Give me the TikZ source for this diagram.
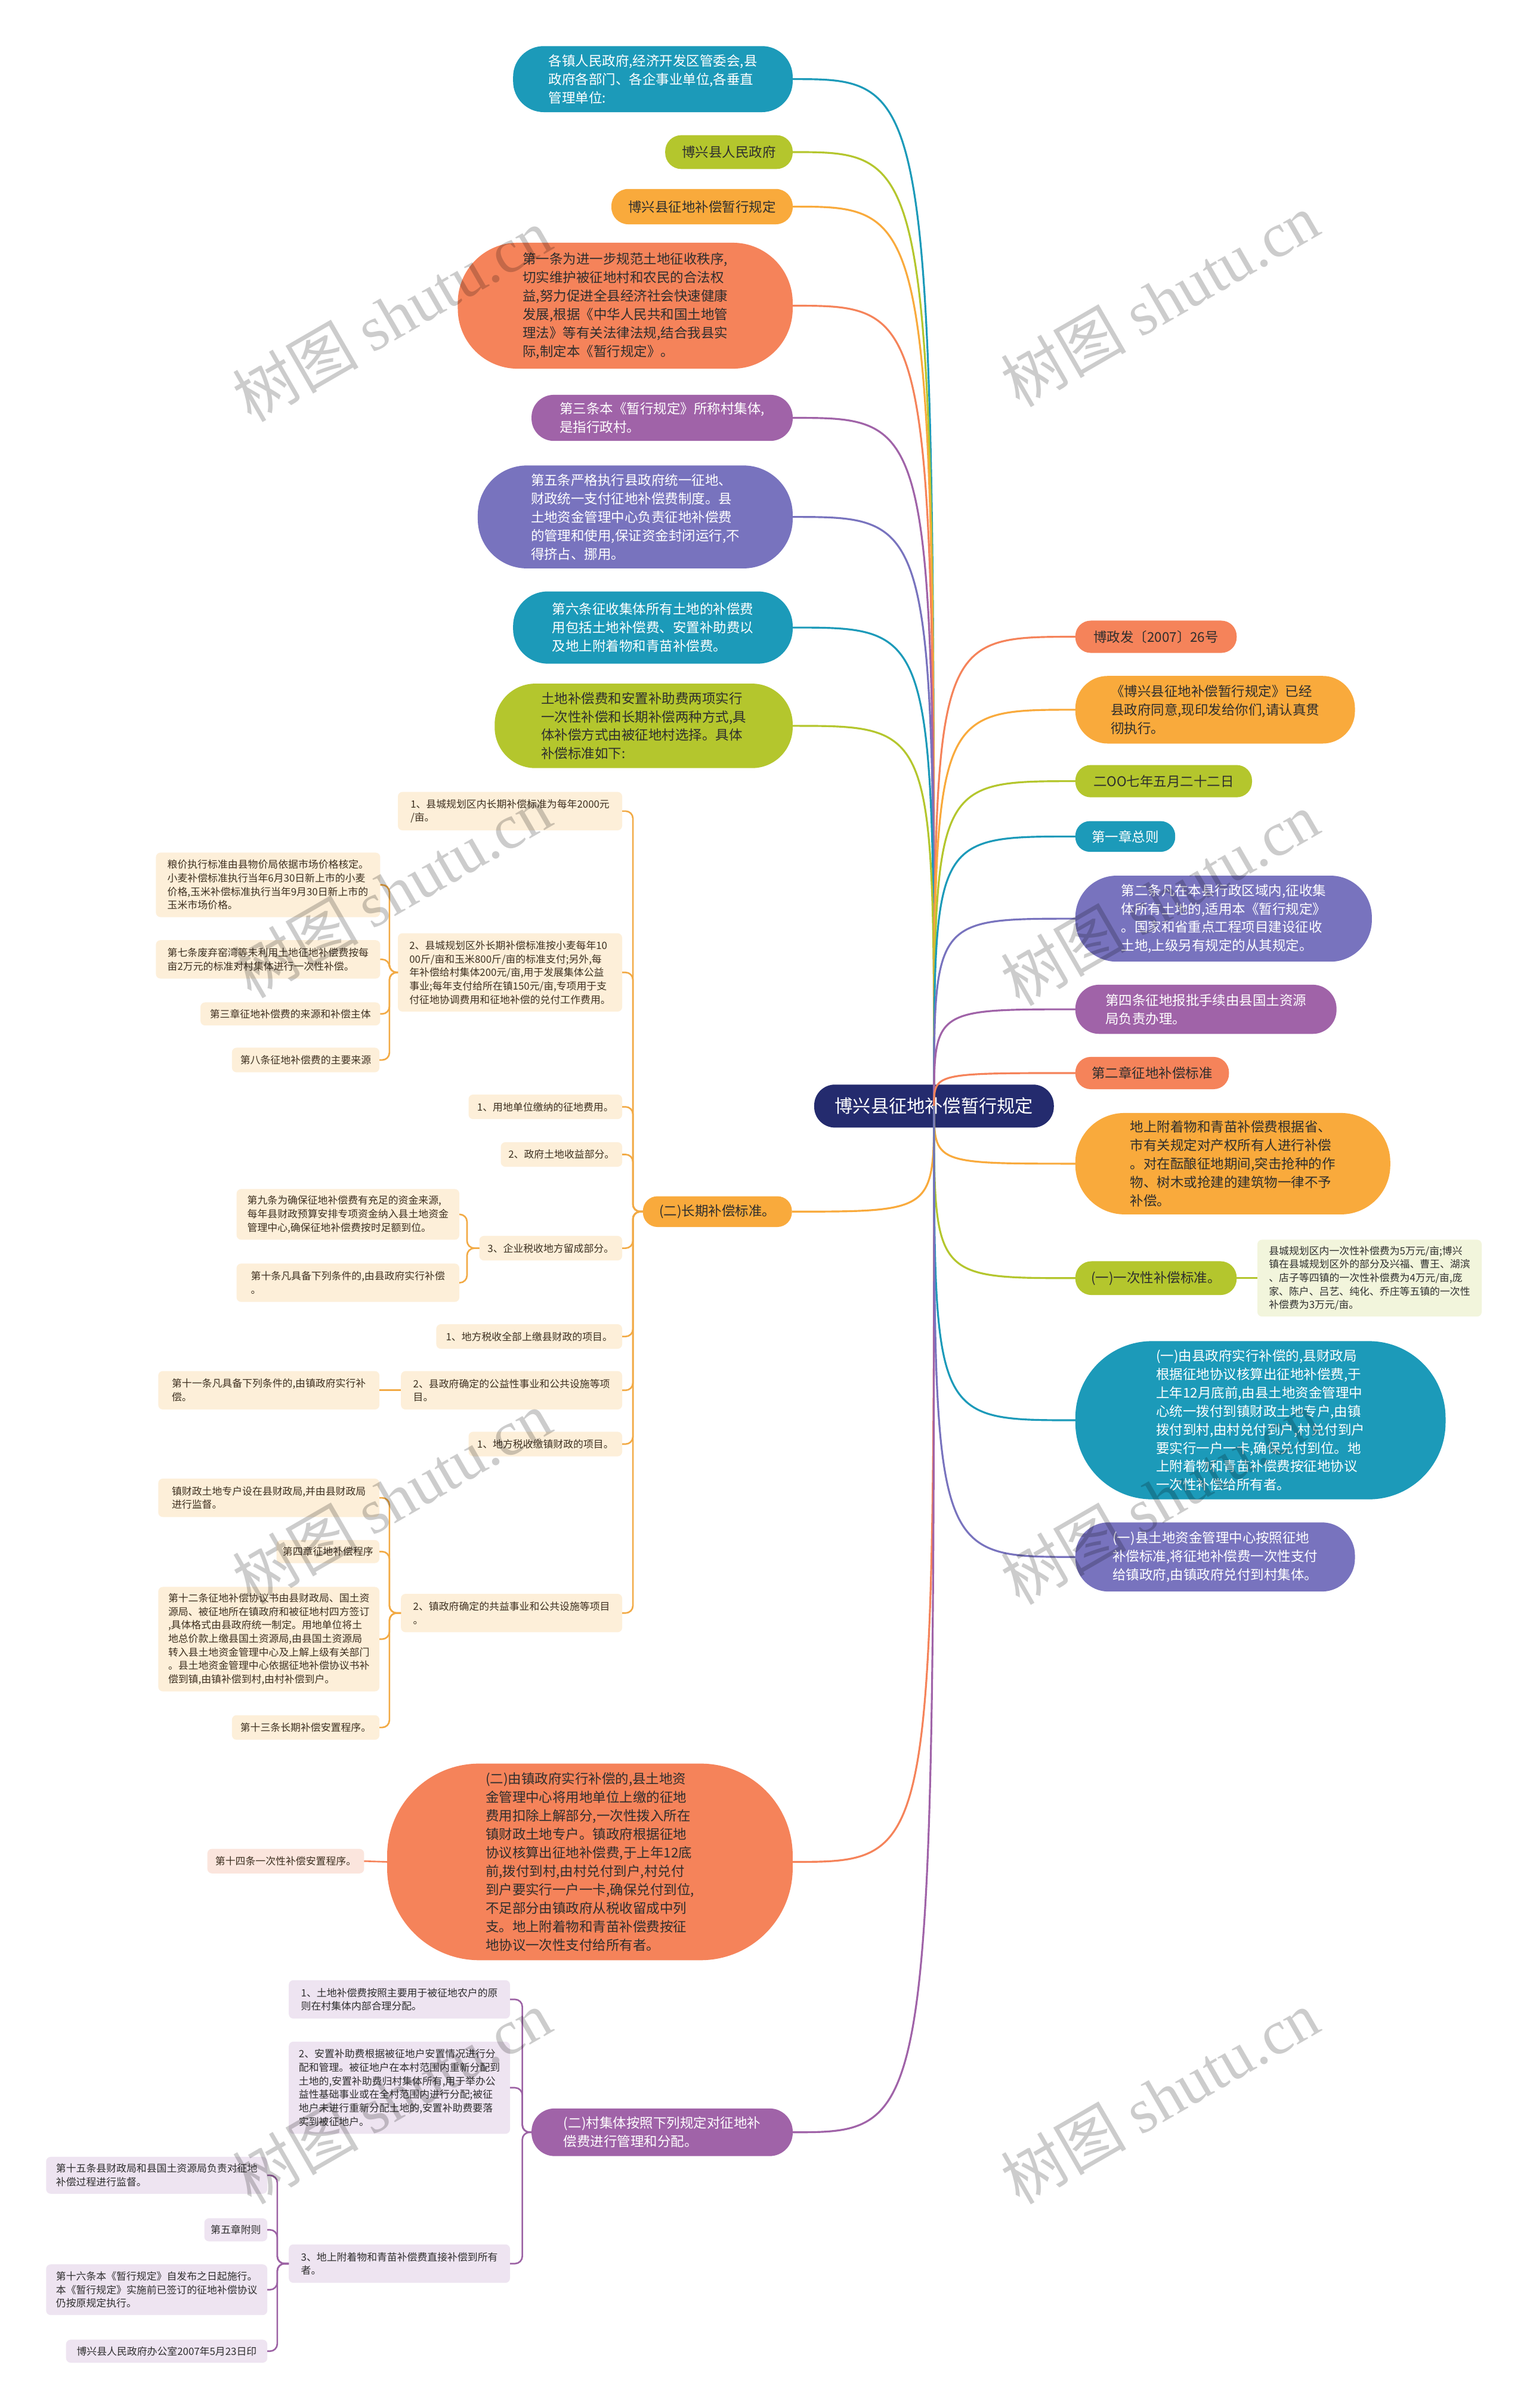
\documentclass[tikz,border=0pt]{standalone}
\usepackage{fontspec}
\setmainfont{Noto Sans CJK SC}
\newfontfamily\wmlatin{Liberation Serif}
\newdimen\uu
\uu=0.25755mm
\definecolor{cTeal}{HTML}{1C9AB9}
\definecolor{cYG}{HTML}{B4C62D}
\definecolor{cOrange}{HTML}{F9AA3C}
\definecolor{cSalmon}{HTML}{F5835A}
\definecolor{cPurple}{HTML}{A063A8}
\definecolor{cBP}{HTML}{7873BE}
\definecolor{cNavy}{HTML}{242B6E}
\definecolor{cDark}{HTML}{2E2E2E}
\definecolor{cBrown}{HTML}{3D3020}
\definecolor{fPeach}{HTML}{FDEFD9}
\definecolor{fLav}{HTML}{EEE4F1}
\definecolor{fGreen}{HTML}{F2F5DC}
\definecolor{fPink}{HTML}{FBE5DD}
\definecolor{lOrange}{HTML}{F2AA45}
\definecolor{lPurple}{HTML}{9C62A4}
\tikzset{
 nbase/.style={inner sep=0pt, outer sep=0pt, align=left},
 bw/.style={minimum width=#1*\uu},
 bh/.style={minimum height=#1*\uu},
 br/.style={rounded corners=#1*\uu},
 mb/.style={nbase, fill=#1, text=white, font=\fontsize{6.4pt}{8.8pt}\selectfont},
 dk/.style={text=cDark},
 sb/.style={nbase, fill=#1, text=cBrown, rounded corners=2.2pt, font=\fontsize{4.8pt}{6.45pt}\selectfont},
 conn/.style={line width=0.9pt},
 sconn/.style={line width=0.75pt, rounded corners=3.5pt},
 wm/.style={text=black, opacity=0.2, rotate=30, font=\fontsize{30pt}{30pt}\selectfont, inner sep=0pt},
}
\begin{document}
\begin{tikzpicture}[x=0.25755mm, y=-0.25755mm]
\fill[white] (0,0) rectangle (994,1567.5);
\useasboundingbox (0,0) rectangle (994,1567.5);

% centre
\node[mb=cNavy, bw=156, bh=28, br=13.5, font=\fontsize{8.6pt}{10pt}\selectfont] (ctrnode) at (608,720) {博兴县征地补偿暂行规定};
\coordinate (ctr) at (608,720);

% left upper branches
\node[mb=cTeal, bw=182, bh=43, br=20] (a1) at (425,51.5) {各镇人民政府,经济开发区管委会,县\\政府各部门、各企事业单位,各垂直\\管理单位:};
\node[mb=cYG, dk, bw=83, bh=22, br=10.5] (a2) at (474.5,99) {博兴县人民政府};
\node[mb=cOrange, dk, bw=118, bh=23, br=11] (a3) at (457,134.5) {博兴县征地补偿暂行规定};
\node[mb=cSalmon, dk, bw=218, bh=82, br=39] (a4) at (407,199) {第一条为进一步规范土地征收秩序,\\切实维护被征地村和农民的合法权\\益,努力促进全县经济社会快速健康\\发展,根据《中华人民共和国土地管\\理法》等有关法律法规,结合我县实\\际,制定本《暂行规定》。};
\node[mb=cPurple, bw=170, bh=30, br=14.5] (a5) at (431,272) {第三条本《暂行规定》所称村集体,\\是指行政村。};
\node[mb=cBP, bw=205, bh=67, br=32] (a6) at (413.5,336.5) {第五条严格执行县政府统一征地、\\财政统一支付征地补偿费制度。县\\土地资金管理中心负责征地补偿费\\的管理和使用,保证资金封闭运行,不\\得挤占、挪用。};
\node[mb=cTeal, bw=182, bh=47, br=22.5] (a7) at (425,408.5) {第六条征收集体所有土地的补偿费\\用包括土地补偿费、安置补助费以\\及地上附着物和青苗补偿费。};
\node[mb=cYG, dk, bw=194, bh=55, br=26.5] (a8) at (419,472.5) {土地补偿费和安置补助费两项实行\\一次性补偿和长期补偿两种方式,具\\体补偿方式由被征地村选择。具体\\补偿标准如下:};

% right branches
\node[mb=cSalmon, dk, bw=105, bh=21, br=10] (b1) at (752.5,414.5) {博政发〔2007〕26号};
\node[mb=cOrange, dk, bw=182, bh=44, br=21] (b2) at (791,462) {《博兴县征地补偿暂行规定》已经\\县政府同意,现印发给你们,请认真贯\\彻执行。};
\node[mb=cYG, dk, bw=115, bh=21, br=10] (b3) at (757.5,508.5) {二OO七年五月二十二日};
\node[mb=cTeal, bw=65, bh=20, br=9.5] (b4) at (732.5,544.5) {第一章总则};
\node[mb=cBP, bw=193, bh=56, br=27] (b5) at (796.5,598) {第二条凡在本县行政区域内,征收集\\体所有土地的,适用本《暂行规定》\\。国家和省重点工程项目建设征收\\土地,上级另有规定的从其规定。};
\node[mb=cPurple, bw=170, bh=32, br=15.5] (b6) at (785,657) {第四条征地报批手续由县国土资源\\局负责办理。};
\node[mb=cSalmon, dk, bw=100, bh=21, br=10] (b7) at (750,698.5) {第二章征地补偿标准};
\node[mb=cOrange, dk, bw=205, bh=66, br=32] (b8) at (802.5,757.5) {地上附着物和青苗补偿费根据省、\\市有关规定对产权所有人进行补偿\\。对在酝酿征地期间,突击抢种的作\\物、树木或抢建的建筑物一律不予\\补偿。};
\node[mb=cYG, dk, bw=105, bh=22, br=10.5] (b9) at (752.5,832) {(一)一次性补偿标准。};
\node[sb=fGreen, text=cDark, bw=146, bh=50] (b9c) at (891.5,832) {县城规划区内一次性补偿费为5万元/亩;博兴\\镇在县城规划区外的部分及兴福、曹王、湖滨\\、店子等四镇的一次性补偿费为4万元/亩,庞\\家、陈户、吕艺、纯化、乔庄等五镇的一次性\\补偿费为3万元/亩。};
\node[mb=cTeal, bw=241, bh=103, br=50] (b10) at (820.5,924.5) {(一)由县政府实行补偿的,县财政局\\根据征地协议核算出征地补偿费,于\\上年12月底前,由县土地资金管理中\\心统一拨付到镇财政土地专户,由镇\\拨付到村,由村兑付到户,村兑付到户\\要实行一户一卡,确保兑付到位。地\\上附着物和青苗补偿费按征地协议\\一次性补偿给所有者。};
\node[mb=cBP, bw=182, bh=45, br=21.5] (b11) at (791,1013.5) {(一)县土地资金管理中心按照征地\\补偿标准,将征地补偿费一次性支付\\给镇政府,由镇政府兑付到村集体。};

% left lower: long-term standard
\node[mb=cOrange, dk, bw=97, bh=20, br=9.5] (c1) at (467,788.7) {(二)长期补偿标准。};
\node[sb=fPeach, bw=146, bh=25] (o1) at (332,528) {1、县城规划区内长期补偿标准为每年2000元\\/亩。};
\node[sb=fPeach, bw=146, bh=51] (o2) at (332,633) {2、县城规划区外长期补偿标准按小麦每年10\\00斤/亩和玉米800斤/亩的标准支付;另外,每\\年补偿给村集体200元/亩,用于发展集体公益\\事业;每年支付给所在镇150元/亩,专项用于支\\付征地协调费用和征地补偿的兑付工作费用。};
\node[sb=fPeach, bw=146, bh=42] (o2a) at (174.5,576) {粮价执行标准由县物价局依据市场价格核定。\\小麦补偿标准执行当年6月30日新上市的小麦\\价格,玉米补偿标准执行当年9月30日新上市的\\玉米市场价格。};
\node[sb=fPeach, bw=146, bh=25] (o2b) at (174.5,624.5) {第七条废弃窑湾等未利用土地征地补偿费按每\\亩2万元的标准对村集体进行一次性补偿。};
\node[sb=fPeach, bw=117, bh=15] (o2c) at (189,660) {第三章征地补偿费的来源和补偿主体};
\node[sb=fPeach, bw=96, bh=16] (o2d) at (199,690) {第八条征地补偿费的主要来源};
\node[sb=fPeach, bw=100, bh=16] (o3) at (355,720.5) {1、用地单位缴纳的征地费用。};
\node[sb=fPeach, bw=79, bh=16] (o4) at (365.5,751.5) {2、政府土地收益部分。};
\node[sb=fPeach, bw=93, bh=16] (o5) at (358.5,812.5) {3、企业税收地方留成部分。};
\node[sb=fPeach, bw=145, bh=33] (o5a) at (226.5,790.5) {第九条为确保征地补偿费有充足的资金来源,\\每年县财政预算安排专项资金纳入县土地资金\\管理中心,确保征地补偿费按时足额到位。};
\node[sb=fPeach, bw=145, bh=25] (o5b) at (226.5,835) {第十条凡具备下列条件的,由县政府实行补偿\\。};
\node[sb=fPeach, bw=121, bh=16] (o6) at (344.5,870) {1、地方税收全部上缴县财政的项目。};
\node[sb=fPeach, bw=144, bh=25] (o7) at (333,905) {2、县政府确定的公益性事业和公共设施等项\\目。};
\node[sb=fPeach, bw=144, bh=25] (o7a) at (175,905) {第十一条凡具备下列条件的,由镇政府实行补\\偿。};
\node[sb=fPeach, bw=100, bh=16] (o8) at (355,940) {1、地方税收缴镇财政的项目。};
\node[sb=fPeach, bw=144, bh=25] (o9) at (333,1050) {2、镇政府确定的共益事业和公共设施等项目\\。};
\node[sb=fPeach, bw=144, bh=25] (o9a) at (175,975) {镇财政土地专户设在县财政局,并由县财政局\\进行监督。};
\node[sb=fPeach, bw=67, bh=15] (o9b) at (213.5,1010) {第四章征地补偿程序};
\node[sb=fPeach, bw=144, bh=68] (o9c) at (175,1067) {第十二条征地补偿协议书由县财政局、国土资\\源局、被征地所在镇政府和被征地村四方签订\\,具体格式由县政府统一制定。用地单位将土\\地总价款上缴县国土资源局,由县国土资源局\\转入县土地资金管理中心及上解上级有关部门\\。县土地资金管理中心依据征地补偿协议书补\\偿到镇,由镇补偿到村,由村补偿到户。};
\node[sb=fPeach, bw=96, bh=16] (o9d) at (199,1124.5) {第十三条长期补偿安置程序。};

% town-government compensation
\node[mb=cSalmon, dk, bw=264, bh=128, br=60] (c2) at (384,1212) {(二)由镇政府实行补偿的,县土地资\\金管理中心将用地单位上缴的征地\\费用扣除上解部分,一次性拨入所在\\镇财政土地专户。镇政府根据征地\\协议核算出征地补偿费,于上年12底\\前,拨付到村,由村兑付到户,村兑付\\到户要实行一户一卡,确保兑付到位,\\不足部分由镇政府从税收留成中列\\支。地上附着物和青苗补偿费按征\\地协议一次性支付给所有者。};
\node[sb=fPink, bw=102, bh=16] (c2c) at (186,1211.5) {第十四条一次性补偿安置程序。};

% village collective
\node[mb=cPurple, bw=170, bh=31, br=15] (c3) at (431,1388) {(二)村集体按照下列规定对征地补\\偿费进行管理和分配。};
\node[sb=fLav, text=cDark, bw=144, bh=25] (p1) at (260,1301.5) {1、土地补偿费按照主要用于被征地农户的原\\则在村集体内部合理分配。};
\node[sb=fLav, text=cDark, bw=144, bh=60] (p2) at (260,1359) {2、安置补助费根据被征地户安置情况进行分\\配和管理。被征地户在本村范围内重新分配到\\土地的,安置补助费归村集体所有,用于举办公\\益性基础事业或在全村范围内进行分配;被征\\地户未进行重新分配土地的,安置补助费要落\\实到被征地户。};
\node[sb=fLav, text=cDark, bw=144, bh=25] (p3) at (260,1473.5) {3、地上附着物和青苗补偿费直接补偿到所有\\者。};
\node[sb=fLav, text=cDark, bw=144, bh=24] (p3a) at (102,1416) {第十五条县财政局和县国土资源局负责对征地\\补偿过程进行监督。};
\node[sb=fLav, text=cDark, bw=41, bh=15] (p3b) at (153.5,1451.5) {第五章附则};
\node[sb=fLav, text=cDark, bw=144, bh=33] (p3c) at (102,1490.5) {第十六条本《暂行规定》自发布之日起施行。\\本《暂行规定》实施前已签订的征地补偿协议\\仍按原规定执行。};
\node[sb=fLav, text=cDark, bw=131, bh=15] (p3d) at (108.5,1530.5) {博兴县人民政府办公室2007年5月23日印};

% connectors from centre
\foreach \n/\c in {a1/cTeal,a2/cYG,a3/cOrange,a4/cSalmon,a5/cPurple,a6/cBP,a7/cTeal,a8/cYG,c1/cOrange,c2/cSalmon,c3/cPurple}
  \draw[conn,\c] (ctr) .. controls (ctr |- \n.east) .. (\n.east);
\foreach \n/\c in {b1/cSalmon,b2/cOrange,b3/cYG,b4/cTeal,b5/cBP,b6/cPurple,b7/cSalmon,b8/cOrange,b9/cYG,b10/cTeal,b11/cBP}
  \draw[conn,\c] (ctr) .. controls (ctr |- \n.west) .. (\n.west);

% sub-tree connectors
\draw[sconn,cYG] (b9.east) -- (b9c.west);
\draw[sconn,cSalmon] (c2.west) -- (c2c.east);
\foreach \k in {o1,o2,o3,o4,o5,o6,o7,o8,o9}
  \draw[sconn,lOrange] (c1.west) -- ++(-6.5,0) |- (\k.east);
\foreach \k in {o2a,o2b,o2c,o2d}
  \draw[sconn,lOrange] (o2.west) -- ++(-5.5,0) |- (\k.east);
\foreach \k in {o5a,o5b}
  \draw[sconn,lOrange] (o5.west) -- ++(-8,0) |- (\k.east);
\draw[sconn,lOrange] (o7.west) -- (o7a.east);
\foreach \k in {o9a,o9b,o9c,o9d}
  \draw[sconn,lOrange] (o9.west) -- ++(-7.5,0) |- (\k.east);
\foreach \k in {p1,p2,p3}
  \draw[sconn,lPurple] (c3.west) -- ++(-6,0) |- (\k.east);
\foreach \k in {p3a,p3b,p3c,p3d}
  \draw[sconn,lPurple] (p3.west) -- ++(-7.5,0) |- (\k.east);

% watermarks
\node[wm] (w1) at (255,205) {树图 {\wmlatin shutu.cn}};
\node[wm] (w2) at (755,195) {树图 {\wmlatin shutu.cn}};
\node[wm] (w3) at (255,580) {树图 {\wmlatin shutu.cn}};
\node[wm] (w4) at (755,585) {树图 {\wmlatin shutu.cn}};
\node[wm] (w5) at (255,975) {树图 {\wmlatin shutu.cn}};
\node[wm] (w6) at (755,975) {树图 {\wmlatin shutu.cn}};
\node[wm] (w7) at (255,1365) {树图 {\wmlatin shutu.cn}};
\node[wm] (w8) at (755,1365) {树图 {\wmlatin shutu.cn}};
\end{tikzpicture}
\end{document}
